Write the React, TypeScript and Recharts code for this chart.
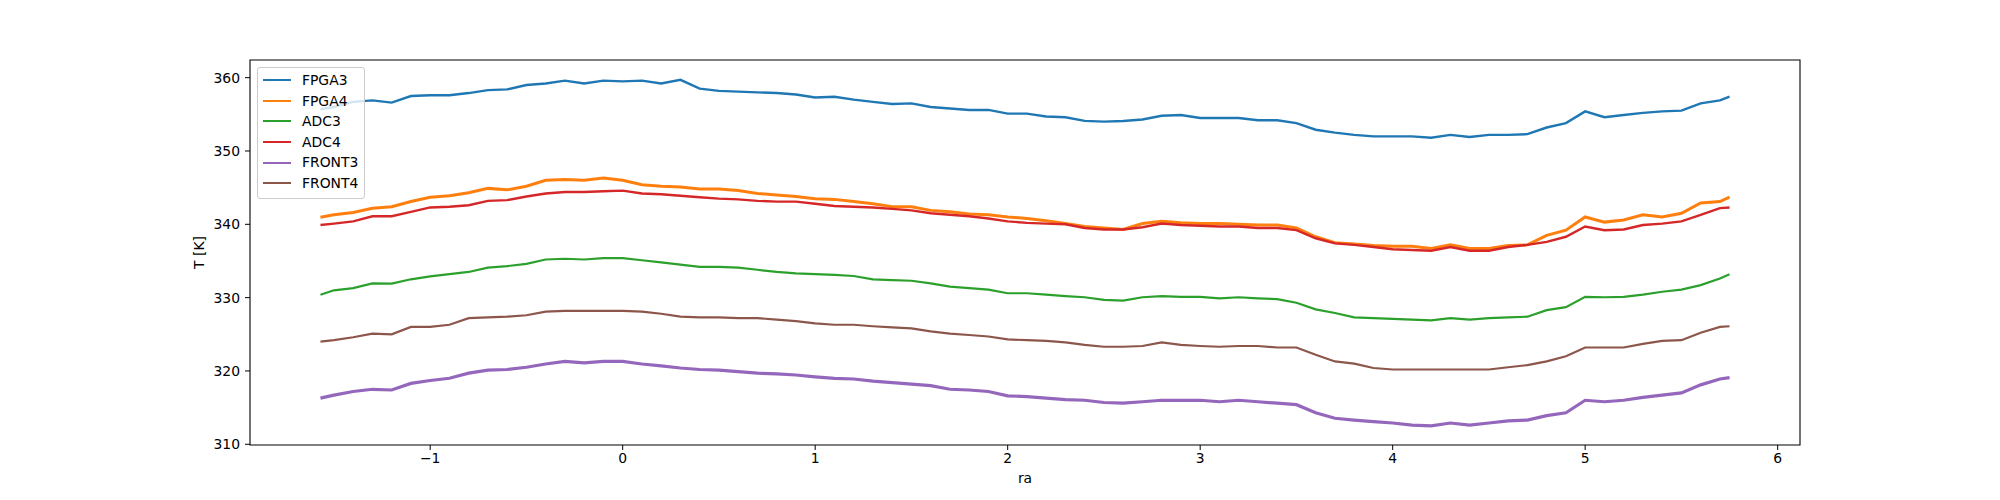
import { LineChart, Line, XAxis, YAxis, Legend, Label, ReferenceArea } from 'recharts'

// ── data (x step ~0.1) ────────────────────────────────────────────────────────
const RA = [
  -1.57, -1.5, -1.4, -1.3, -1.2, -1.1, -1.0, -0.9, -0.8, -0.7, -0.6, -0.5, -0.4, -0.3, -0.2, -0.1,
  0, 0.1, 0.2, 0.3, 0.4, 0.5, 0.6, 0.7, 0.8, 0.9, 1.0, 1.1, 1.2, 1.3, 1.4, 1.5, 1.6, 1.7, 1.8, 1.9,
  2.0, 2.1, 2.2, 2.3, 2.4, 2.5, 2.6, 2.7, 2.8, 2.9, 3.0, 3.1, 3.2, 3.3, 3.4, 3.5, 3.6, 3.7, 3.8, 3.9,
  4.0, 4.1, 4.2, 4.3, 4.4, 4.5, 4.6, 4.7, 4.8, 4.9, 5.0, 5.1, 5.2, 5.3, 5.4, 5.5, 5.6, 5.7, 5.75,
]

const FPGA3 = [
  355.7, 356.0, 356.7, 356.9, 356.6, 357.5, 357.6, 357.6, 357.9, 358.3, 358.4, 359.0, 359.2, 359.6, 359.2, 359.6,
  359.5, 359.6, 359.2, 359.7, 358.5, 358.2, 358.1, 358.0, 357.9, 357.7, 357.3, 357.4, 357.0, 356.7, 356.4, 356.5, 356.0, 355.8, 355.6, 355.6,
  355.1, 355.1, 354.7, 354.6, 354.1, 354.0, 354.1, 354.3, 354.8, 354.9, 354.5, 354.5, 354.5, 354.2, 354.2, 353.8, 352.9, 352.5, 352.2, 352.0,
  352.0, 352.0, 351.8, 352.2, 351.9, 352.2, 352.2, 352.3, 353.2, 353.8, 355.4, 354.6, 354.9, 355.2, 355.4, 355.5, 356.5, 356.9, 357.4,
]

const FPGA4 = [
  340.95, 341.3, 341.6, 342.2, 342.4, 343.1, 343.7, 343.9, 344.3, 344.9, 344.7, 345.2, 346.0, 346.1, 346.0, 346.3,
  346.0, 345.4, 345.2, 345.1, 344.8, 344.8, 344.6, 344.2, 344.0, 343.8, 343.5, 343.4, 343.1, 342.8, 342.4, 342.4, 341.9, 341.7, 341.4, 341.3,
  341.0, 340.8, 340.5, 340.1, 339.7, 339.5, 339.3, 340.1, 340.4, 340.2, 340.1, 340.1, 340.0, 339.9, 339.9, 339.5, 338.3, 337.5, 337.3, 337.1,
  337.0, 337.0, 336.7, 337.2, 336.7, 336.7, 337.1, 337.2, 338.5, 339.2, 341.0, 340.3, 340.6, 341.3, 341.0, 341.5, 342.9, 343.1, 343.7,
]

const ADC3 = [
  330.4, 331.0, 331.3, 331.95, 331.9, 332.5, 332.9, 333.2, 333.5, 334.1, 334.3, 334.6, 335.2, 335.3, 335.2, 335.4,
  335.4, 335.1, 334.8, 334.5, 334.2, 334.2, 334.1, 333.8, 333.5, 333.3, 333.2, 333.1, 332.95, 332.5, 332.4, 332.3, 331.95, 331.5, 331.3, 331.1,
  330.6, 330.6, 330.4, 330.2, 330.05, 329.7, 329.6, 330.05, 330.2, 330.1, 330.1, 329.9, 330.05, 329.9, 329.8, 329.3, 328.4, 327.9, 327.3, 327.2,
  327.1, 327.0, 326.9, 327.2, 327.0, 327.2, 327.3, 327.4, 328.3, 328.7, 330.1, 330.05, 330.1, 330.4, 330.8, 331.1, 331.7, 332.6, 333.2,
]

const ADC4 = [
  339.9, 340.1, 340.4, 341.1, 341.1, 341.7, 342.3, 342.4, 342.6, 343.2, 343.3, 343.8, 344.2, 344.4, 344.4, 344.5,
  344.6, 344.2, 344.1, 343.9, 343.7, 343.5, 343.4, 343.2, 343.1, 343.1, 342.8, 342.5, 342.4, 342.3, 342.1, 341.9, 341.5, 341.3, 341.1, 340.8,
  340.4, 340.2, 340.1, 340.0, 339.5, 339.3, 339.3, 339.6, 340.1, 339.9, 339.8, 339.7, 339.7, 339.5, 339.5, 339.2, 338.1, 337.4, 337.2, 336.9,
  336.6, 336.5, 336.4, 336.9, 336.4, 336.4, 336.9, 337.2, 337.6, 338.3, 339.7, 339.2, 339.3, 339.9, 340.1, 340.4, 341.3, 342.2, 342.3,
]

const FRONT3 = [
  316.3, 316.7, 317.2, 317.5, 317.4, 318.3, 318.7, 319.0, 319.7, 320.1, 320.2, 320.5, 320.95, 321.3, 321.1, 321.3,
  321.3, 320.95, 320.7, 320.4, 320.2, 320.1, 319.9, 319.7, 319.6, 319.45, 319.2, 319.0, 318.9, 318.6, 318.4, 318.2, 318.0, 317.5, 317.4, 317.2,
  316.6, 316.5, 316.3, 316.1, 316.0, 315.7, 315.6, 315.8, 316.0, 316.0, 316.0, 315.8, 316.0, 315.8, 315.6, 315.4, 314.3, 313.55, 313.3, 313.1,
  312.9, 312.6, 312.5, 312.9, 312.6, 312.9, 313.2, 313.3, 313.9, 314.3, 316.0, 315.8, 316.0, 316.4, 316.7, 317.0, 318.1, 318.9, 319.1,
]

const FRONT4 = [
  324.0, 324.2, 324.6, 325.1, 325.0, 326.0, 326.0, 326.3, 327.2, 327.3, 327.4, 327.6, 328.1, 328.2, 328.2, 328.2,
  328.2, 328.1, 327.8, 327.4, 327.3, 327.3, 327.2, 327.2, 327.0, 326.8, 326.5, 326.3, 326.3, 326.1, 325.95, 325.8, 325.4, 325.1, 324.9, 324.7,
  324.3, 324.2, 324.1, 323.9, 323.55, 323.3, 323.3, 323.4, 323.9, 323.55, 323.4, 323.3, 323.4, 323.4, 323.2, 323.2, 322.2, 321.3, 321.0, 320.4,
  320.2, 320.2, 320.2, 320.2, 320.2, 320.2, 320.5, 320.8, 321.3, 322.0, 323.2, 323.2, 323.2, 323.7, 324.1, 324.2, 325.2, 326.0, 326.1,
]

const X_TICKS = [-1, 0, 1, 2, 3, 4, 5, 6]
const Y_TICKS = [310, 320, 330, 340, 350, 360]

const SERIES = [
  { key: 'FPGA3', values: FPGA3, color: '#1f77b4', width: 2.4 },
  { key: 'FPGA4', values: FPGA4, color: '#ff7f0e', width: 3 },
  { key: 'ADC3', values: ADC3, color: '#2ca02c', width: 2.2 },
  { key: 'ADC4', values: ADC4, color: '#d62728', width: 2.4 },
  { key: 'FRONT3', values: FRONT3, color: '#9467bd', width: 3.2 },
  { key: 'FRONT4', values: FRONT4, color: '#8c564b', width: 2.2 },
]

const rows = RA.map((ra, i) => {
  const row: Record<string, number> = { ra }
  SERIES.forEach(s => { row[s.key] = s.values[i] })
  return row
})

const FONT = "'DejaVu Sans', sans-serif"
const FS = 13.9
const X_DOMAIN: [number, number] = [-1.936, 6.116]
const Y_DOMAIN: [number, number] = [309.9, 362.41]

const minus = (v: number) => (v < 0 ? `\u2212${-v}` : String(v))

// ── matplotlib-style legend box ───────────────────────────────────────────────
function LegendBox() {
  return (
    <div style={{
      background: 'rgba(255,255,255,0.8)', border: '1px solid #cccccc', borderRadius: 3,
      padding: '2px 6px 4px 5px', fontFamily: FONT, fontSize: FS, color: '#000',
    }}>
      {SERIES.map(s => (
        <div key={s.key} style={{ display: 'flex', alignItems: 'center', height: 20.6 }}>
          <span style={{ display: 'inline-block', width: 28, height: 2, background: s.color, marginRight: 11 }} />
          <span style={{ lineHeight: '20.6px' }}>{s.key}</span>
        </div>
      ))}
    </div>
  )
}

export default function App() {
  return (
    <div style={{ position: 'absolute', left: 0, top: 0, width: 2000, height: 500, background: '#fff' }}>
      <LineChart width={2000} height={500} data={rows} margin={{ top: 60, right: 200, bottom: 25, left: 190 }}>
        <XAxis
          type="number" dataKey="ra" domain={X_DOMAIN} ticks={X_TICKS} allowDataOverflow
          height={30} tickSize={5} tickMargin={3} tickFormatter={minus}
          stroke="#000" tickLine={{ stroke: '#000' }} axisLine={false}
          tick={{ fill: '#000', fontSize: FS, fontFamily: FONT }}
        >
          <Label value="ra" position="bottom" offset={-2} style={{ fill: '#000', fontSize: FS, fontFamily: FONT }} />
        </XAxis>
        <YAxis
          type="number" domain={Y_DOMAIN} ticks={Y_TICKS} allowDataOverflow
          width={60} tickSize={5} tickMargin={5}
          stroke="#000" tickLine={{ stroke: '#000' }} axisLine={false}
          tick={{ fill: '#000', fontSize: FS, fontFamily: FONT }}
        >
          <Label value="T [K]" angle={-90} position="insideLeft" offset={9} textAnchor="middle"
            style={{ fill: '#000', fontSize: FS, fontFamily: FONT, textAnchor: 'middle' }} />
        </YAxis>
        {SERIES.map(s => (
          <Line
            key={s.key}
            type="linear"
            dataKey={s.key}
            stroke={s.color}
            strokeWidth={s.width}
            dot={false}
            activeDot={false}
            isAnimationActive={false}
          />
        ))}
        {/* axes frame, like matplotlib's four spines */}
        <ReferenceArea
          x1={X_DOMAIN[0]} x2={X_DOMAIN[1]} y1={Y_DOMAIN[0]} y2={Y_DOMAIN[1]}
          fill="none" fillOpacity={0} stroke="#000" strokeWidth={1.1} ifOverflow="visible"
        />
        <Legend
          layout="vertical" align="center" verticalAlign="middle"
          wrapperStyle={{ left: 257, top: 67, width: 'auto', height: 'auto' }}
          content={() => <LegendBox />}
        />
      </LineChart>
    </div>
  )
}
